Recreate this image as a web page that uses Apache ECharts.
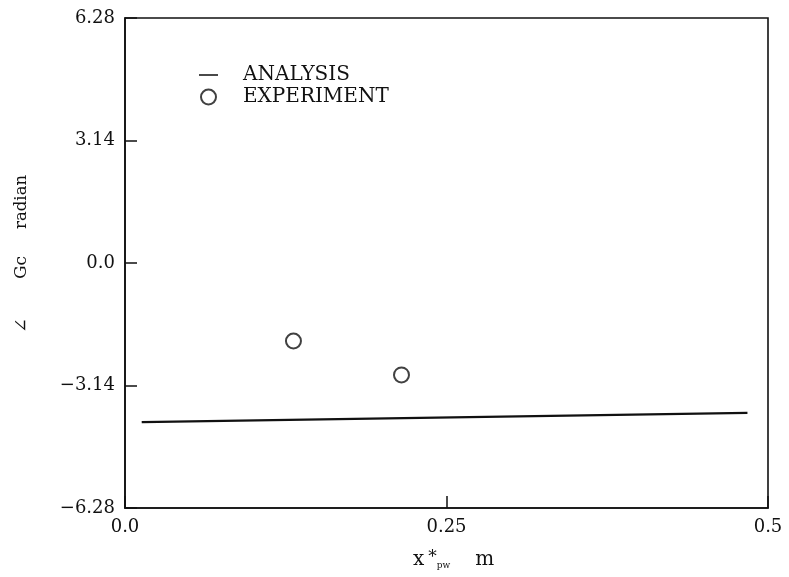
<!DOCTYPE html>
<html><head><meta charset="utf-8">
<script src="https://cdn.jsdelivr.net/npm/echarts@6/dist/echarts.min.js"></script>
<style>html,body{margin:0;padding:0;background:#fff}#c{width:789px;height:577px}</style>
</head><body><div id="c"></div>
<script>
// Data
const analysisX = [0.013, 0.484];
const analysisY = [-4.08, -3.84];
const experimentX = [0.131, 0.215];
const experimentY = [-2.0, -2.87];
const yTicks = [-6.28, -3.14, 0, 3.14, 6.28];
const xTicks = [0, 0.25, 0.5];
const seriesNames = ['ANALYSIS', 'EXPERIMENT'];

const FONT = 'DejaVu Serif';
const chart = echarts.init(document.getElementById('c'), null, {renderer: 'canvas'});
const fmtY = v => { if (Math.abs(v) < 1e-9) return '0.0'; return v.toFixed(2).replace('-', '\u2212'); };
const fmtX = v => { if (v === 0) return '0.0'; if (Math.abs(v - 0.5) < 1e-9) return '0.5'; return String(v); };

chart.setOption({
  animation: false,
  backgroundColor: '#fff',
  textStyle: {fontFamily: FONT, color: '#111'},
  grid: {left: 125, top: 18, right: 21, bottom: 69, show: true, borderColor: '#111', borderWidth: 1.6, backgroundColor: 'transparent'},
  legend: {
    orient: 'vertical', left: 194, top: 60, itemWidth: 19, itemHeight: 15, itemGap: 2,
    data: [
      {name: seriesNames[0], icon: 'path://M0,0H20V1.6H0Z'},
      {name: seriesNames[1]}
    ],
    textStyle: {fontFamily: FONT, fontSize: 20, color: '#111', padding: [0, 0, 0, 20]},
    inactiveColor: '#111'
  },
  xAxis: {
    type: 'value', min: xTicks[0], max: xTicks[xTicks.length - 1], interval: 0.25,
    axisLine: {show: true, onZero: false, lineStyle: {color: '#111', width: 1.6}},
    axisTick: {show: true, inside: true, length: 12, lineStyle: {color: '#111', width: 1.5}},
    splitLine: {show: false},
    axisLabel: {formatter: fmtX, fontFamily: FONT, fontSize: 18, color: '#111', margin: 10},
    name: '{x|x}{s|*}{p|pw}{m|m}',
    nameLocation: 'middle', nameGap: 41,
    nameTextStyle: {
      padding: [0, 0, 0, 14],
      rich: {
        x: {fontFamily: FONT, fontSize: 20, color: '#111'},
        s: {fontFamily: FONT, fontSize: 17, color: '#111', padding: [0, 0, 3, 4]},
        p: {fontFamily: FONT, fontSize: 9, color: '#111', padding: [12, 0, 0, 0]},
        m: {fontFamily: FONT, fontSize: 20, color: '#111', padding: [0, 0, 0, 25]}
      }
    }
  },
  yAxis: {
    type: 'value', min: yTicks[0], max: yTicks[yTicks.length - 1], interval: 3.14,
    axisLine: {show: true, onZero: false, lineStyle: {color: '#111', width: 1.6}},
    axisTick: {show: true, inside: true, length: 12, lineStyle: {color: '#111', width: 1.5}},
    splitLine: {show: false},
    axisLabel: {formatter: fmtY, fontFamily: FONT, fontSize: 18, color: '#111', margin: 10},
    name: '{a|\u2220}{b|Gc}{c|radian}',
    nameLocation: 'middle', nameGap: 94, nameRotate: 90,
    nameTextStyle: {
      padding: [0, 0, 0, 18],
      rich: {
        a: {fontFamily: FONT, fontSize: 18, color: '#111', padding: [0, 39, 0, 0]},
        b: {fontFamily: FONT, fontSize: 17, color: '#111', padding: [0, 27, 0, 0]},
        c: {fontFamily: FONT, fontSize: 16.5, color: '#111'}
      }
    }
  },
  series: [
    {
      name: seriesNames[0], type: 'line', symbol: 'none',
      data: analysisX.map((x, i) => [x, analysisY[i]]),
      lineStyle: {color: '#111', width: 2.2},
      itemStyle: {color: '#111'}
    },
    {
      name: seriesNames[1], type: 'scatter', symbol: 'circle', symbolSize: 15,
      data: experimentX.map((x, i) => [x, experimentY[i]]),
      itemStyle: {color: '#fff', borderColor: '#111', borderWidth: 2}
    }
  ]
});
</script></body></html>
